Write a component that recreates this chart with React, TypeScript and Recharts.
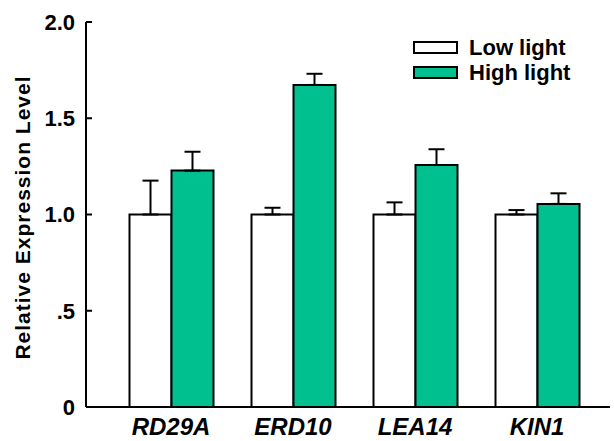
import { Bar, BarChart, ErrorBar, Legend, XAxis, YAxis } from "recharts";

const categories = ["RD29A", "ERD10", "LEA14", "KIN1"];
const seriesNames = ["Low light", "High light"];
const lowLight = [1.0, 1.0, 1.0, 1.0];
const lowLightErr = [0.176, 0.035, 0.063, 0.023];
const highLight = [1.228, 1.673, 1.257, 1.055];
const highLightErr = [0.098, 0.058, 0.082, 0.055];
const yTicks = [0, 0.5, 1, 1.5, 2];
const yTickLabels = ["0", ".5", "1.0", "1.5", "2.0"];

const GREEN = "#00C08F";
const FONT = "'Liberation Sans', Arial, Helvetica, sans-serif";

const data = categories.map((name, i) => ({
  name,
  low: lowLight[i],
  lowErr: [0, lowLightErr[i]],
  high: highLight[i],
  highErr: [0, highLightErr[i]],
}));

const LegendBox = ({ payload }: any) => {
  const items = [...(payload || [])].sort((a: any, b: any) => seriesNames.indexOf(a.value) - seriesNames.indexOf(b.value));
  return (
    <div style={{ fontFamily: FONT }}>
      {items.map((p: any) => (
        <div key={p.value} style={{ display: "flex", alignItems: "center", height: 25 }}>
          <span
            style={{
              width: 45,
              height: 13,
              boxSizing: "border-box",
              border: "2px solid #000",
              background: p.payload?.fill ?? p.color,
              display: "inline-block",
            }}
          />
          <span style={{ marginLeft: 11, fontSize: 22, fontWeight: 700, color: "#000", lineHeight: "25px" }}>
            {p.value}
          </span>
        </div>
      ))}
    </div>
  );
};

const YLabel = ({ viewBox }: any) => {
  const cy = viewBox.y + viewBox.height / 2 + 3;
  return (
    <text
      x={30}
      y={cy}
      transform={`rotate(-90, 30, ${cy})`}
      textAnchor="middle"
      fontFamily={FONT}
      fontSize={21}
      fontWeight={700}
      letterSpacing={1}
      fill="#000"
    >
      Relative Expression Level
    </text>
  );
};

export default function App() {
  return (
    <div style={{ position: "absolute", left: 0, top: 0, width: 614, height: 441, background: "#fff" }}>
      <BarChart
        width={614}
        height={441}
        data={data}
        margin={{ top: 22, right: 4, bottom: 0, left: 0 }}
        barCategoryGap={19.5}
        barGap={0}
      >
        <XAxis
          dataKey="name"
          height={34}
          padding={{ left: 24, right: 12 }}
          axisLine={{ stroke: "#000", strokeWidth: 2 }}
          tickLine={false}
          tickSize={0}
          tickMargin={11}
          tick={{ fill: "#000", fontSize: 24, fontWeight: 700, fontStyle: "italic", fontFamily: FONT }}
        />
        <YAxis
          width={86}
          domain={[0, 2]}
          ticks={yTicks}
          interval={0}
          axisLine={{ stroke: "#000", strokeWidth: 2 }}
          tickLine={{ stroke: "#000", strokeWidth: 2 }}
          tickSize={-6}
          tickMargin={17}
          tick={{ fill: "#000", fontSize: 22, fontWeight: 700, fontFamily: FONT }}
          tickFormatter={(v: number) => yTickLabels[yTicks.indexOf(v)] ?? String(v)}
          label={<YLabel />}
        />
        <Legend
          layout="horizontal"
          verticalAlign="middle"
          align="center"
          content={<LegendBox />}
          wrapperStyle={{ left: 413, top: 35, width: 200, height: 52 }}
        />
        <Bar dataKey="low" name={seriesNames[0]} fill="#fff" stroke="#000" strokeWidth={2} isAnimationActive={false}>
          <ErrorBar dataKey="lowErr" direction="y" width={8} stroke="#000" strokeWidth={2} />
        </Bar>
        <Bar dataKey="high" name={seriesNames[1]} fill={GREEN} stroke="#000" strokeWidth={2} isAnimationActive={false}>
          <ErrorBar dataKey="highErr" direction="y" width={8} stroke="#000" strokeWidth={2} />
        </Bar>
      </BarChart>
    </div>
  );
}
